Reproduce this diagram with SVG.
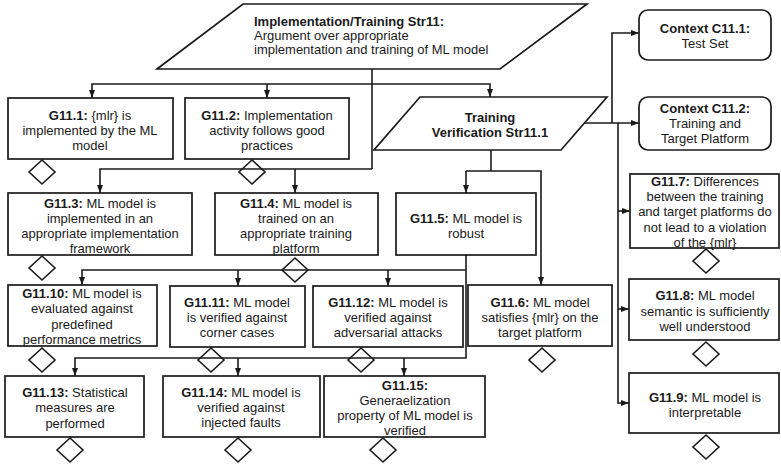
<svg xmlns="http://www.w3.org/2000/svg" width="781" height="466" viewBox="0 0 781 466">
  <defs>
    <marker id="arrow" viewBox="0 0 8 6" refX="8" refY="3" markerWidth="8" markerHeight="6" markerUnits="userSpaceOnUse" orient="auto">
      <path d="M0,0 L8,3 L0,6 z" fill="#1a1a1a"/>
    </marker>
    <path id="dia" d="M0,-12 L13,0 L0,12 L-13,0 z"/>
  </defs>
  <style>
    text { font-family: "Liberation Sans", Arial, sans-serif; font-size: 13px; fill: #1a1a1a; }
    .c { text-anchor: middle; }
    .b { font-weight: bold; }
    .node { fill: #fff; stroke: #1a1a1a; stroke-width: 1.7; }
    .edge { fill: none; stroke: #1a1a1a; stroke-width: 1.6; }
    .arr { marker-end: url(#arrow); }
    .dm { fill: none; stroke: #1a1a1a; stroke-width: 1.6; }
  </style>
  <rect width="781" height="466" fill="#fff"/>

  <!-- connectors -->
  <g id="connectors">
    <!-- Str11 fan-out -->
    <path class="edge" d="M372,69 V169"/>
    <path class="edge arr" d="M372,84 H92 V98"/>
    <path class="edge arr" d="M267,84 V98"/>
    <path class="edge arr" d="M372,84 H490 V97"/>
    <path class="edge arr" d="M372,169 H100 V193"/>
    <path class="edge arr" d="M295,169 V193"/>
    <!-- Str11.1 fan-out -->
    <path class="edge" d="M491,150 V171"/>
    <path class="edge arr" d="M466,171 H541 V285"/>
    <path class="edge arr" d="M466,171 V193"/>
    <path class="edge arr" d="M584,123 H639"/>
    <path class="edge arr" d="M612,123 V33 H639"/>
    <path class="edge arr" d="M618,123 V403 H629"/>
    <path class="edge arr" d="M618,211 H630"/>
    <path class="edge arr" d="M618,309 H629"/>
    <!-- G11.5 fan-out -->
    <path class="edge arr" d="M466,255 V358 H75 V376"/>
    <path class="edge arr" d="M466,270 H82 V285"/>
    <path class="edge arr" d="M238,270 V286"/>
    <path class="edge arr" d="M388,270 V286"/>
    <path class="edge arr" d="M238,358 V376"/>
    <path class="edge arr" d="M404,358 V376"/>
  </g>

  <!-- strategies -->
  <g id="Str11">
    <polygon class="node" points="243,4 587,4 500,69 157,69"/>
    <text x="254" y="26" class="b">Implementation/Training Str11:</text>
    <text x="254" y="40">Argument over appropriate</text>
    <text x="254" y="54">implementation and training of ML model</text>
  </g>
  <g id="Str11_1">
    <polygon class="node" points="420,97 607,97 561,150 374,150"/>
    <text x="490" y="122" class="c b">Training</text>
    <text x="490" y="137" class="c b">Verification Str11.1</text>
  </g>

  <!-- contexts -->
  <g id="C11_1">
    <rect class="node" x="639" y="10" width="132" height="50" rx="9"/>
    <text x="705" y="33" class="c b">Context C11.1:</text>
    <text x="705" y="48" class="c">Test Set</text>
  </g>
  <g id="C11_2">
    <rect class="node" x="639" y="97" width="132" height="53" rx="9"/>
    <text x="705" y="113" class="c b">Context C11.2:</text>
    <text x="705" y="128" class="c">Training and</text>
    <text x="705" y="143" class="c">Target Platform</text>
  </g>

  <!-- goals -->
  <g id="G11_1">
    <rect class="node" x="8" y="98" width="165" height="61"/>
    <text x="90" y="120" class="c"><tspan class="b">G11.1:</tspan> {mlr} is</text>
    <text x="90" y="135" class="c">implemented by the ML</text>
    <text x="90" y="150" class="c">model</text>
    <use href="#dia" class="dm" x="42" y="172"/>
  </g>
  <g id="G11_2">
    <rect class="node" x="185" y="98" width="164" height="61"/>
    <text x="267" y="120" class="c"><tspan class="b">G11.2:</tspan> Implementation</text>
    <text x="267" y="135" class="c">activity follows good</text>
    <text x="267" y="150" class="c">practices</text>
    <use href="#dia" class="dm" x="252" y="172"/>
  </g>
  <g id="G11_3">
    <rect class="node" x="8" y="193" width="184" height="62"/>
    <text x="100" y="208" class="c"><tspan class="b">G11.3:</tspan> ML model is</text>
    <text x="100" y="223" class="c">implemented in an</text>
    <text x="100" y="238" class="c">appropriate implementation</text>
    <text x="100" y="253" class="c">framework</text>
    <use href="#dia" class="dm" x="42" y="268"/>
  </g>
  <g id="G11_4">
    <rect class="node" x="215" y="193" width="163" height="62"/>
    <text x="296" y="208" class="c"><tspan class="b">G11.4:</tspan> ML model is</text>
    <text x="296" y="223" class="c">trained on an</text>
    <text x="296" y="238" class="c">appropriate training</text>
    <text x="296" y="253" class="c">platform</text>
    <use href="#dia" class="dm" x="295" y="270"/>
  </g>
  <g id="G11_5">
    <rect class="node" x="396" y="193" width="140" height="62"/>
    <text x="466" y="223" class="c"><tspan class="b">G11.5:</tspan> ML model is</text>
    <text x="466" y="238" class="c">robust</text>
  </g>
  <g id="G11_6">
    <rect class="node" x="468" y="285" width="144" height="61"/>
    <text x="540" y="307" class="c"><tspan class="b">G11.6:</tspan> ML model</text>
    <text x="540" y="322" class="c">satisfies {mlr} on the</text>
    <text x="540" y="337" class="c">target platform</text>
    <use href="#dia" class="dm" x="542" y="360"/>
  </g>
  <g id="G11_7">
    <rect class="node" x="630" y="174" width="149" height="74"/>
    <text x="705" y="186" class="c"><tspan class="b">G11.7:</tspan> Differences</text>
    <text x="705" y="201" class="c">between the training</text>
    <text x="705" y="216" class="c">and target platforms do</text>
    <text x="705" y="232" class="c">not lead to a violation</text>
    <text x="705" y="247" class="c">of the {mlr}</text>
    <use href="#dia" class="dm" x="706" y="261"/>
  </g>
  <g id="G11_8">
    <rect class="node" x="629" y="279" width="150" height="61"/>
    <text x="705" y="300" class="c"><tspan class="b">G11.8:</tspan> ML model</text>
    <text x="705" y="316" class="c">semantic is sufficiently</text>
    <text x="705" y="331" class="c">well understood</text>
    <use href="#dia" class="dm" x="706" y="354"/>
  </g>
  <g id="G11_9">
    <rect class="node" x="629" y="373" width="150" height="60"/>
    <text x="705" y="402" class="c"><tspan class="b">G11.9:</tspan> ML model is</text>
    <text x="705" y="417" class="c">interpretable</text>
    <use href="#dia" class="dm" x="706" y="447"/>
  </g>
  <g id="G11_10">
    <rect class="node" x="8" y="285" width="149" height="61"/>
    <text x="82" y="298" class="c"><tspan class="b">G11.10:</tspan> ML model is</text>
    <text x="82" y="313" class="c">evaluated against</text>
    <text x="82" y="329" class="c">predefined</text>
    <text x="82" y="344" class="c">performance metrics</text>
    <use href="#dia" class="dm" x="42" y="360"/>
  </g>
  <g id="G11_11">
    <rect class="node" x="170" y="286" width="135" height="61"/>
    <text x="237" y="307" class="c"><tspan class="b">G11.11:</tspan> ML model</text>
    <text x="237" y="322" class="c">is verified against</text>
    <text x="237" y="337" class="c">corner cases</text>
    <use href="#dia" class="dm" x="211" y="360"/>
  </g>
  <g id="G11_12">
    <rect class="node" x="313" y="286" width="150" height="61"/>
    <text x="388" y="307" class="c"><tspan class="b">G11.12:</tspan> ML model is</text>
    <text x="388" y="322" class="c">verified against</text>
    <text x="388" y="337" class="c">adversarial attacks</text>
    <use href="#dia" class="dm" x="361" y="360"/>
  </g>
  <g id="G11_13">
    <rect class="node" x="5" y="376" width="139" height="61"/>
    <text x="75" y="397" class="c"><tspan class="b">G11.13:</tspan> Statistical</text>
    <text x="75" y="412" class="c">measures are</text>
    <text x="75" y="428" class="c">performed</text>
    <use href="#dia" class="dm" x="70" y="450"/>
  </g>
  <g id="G11_14">
    <rect class="node" x="163" y="376" width="157" height="61"/>
    <text x="241" y="397" class="c"><tspan class="b">G11.14:</tspan> ML model is</text>
    <text x="241" y="412" class="c">verified against</text>
    <text x="241" y="427" class="c">injected faults</text>
    <use href="#dia" class="dm" x="238" y="450"/>
  </g>
  <g id="G11_15">
    <rect class="node" x="324" y="376" width="161" height="61"/>
    <text x="405" y="390" class="c b">G11.15:</text>
    <text x="405" y="405" class="c">Generaelization</text>
    <text x="405" y="420" class="c">property of ML model is</text>
    <text x="405" y="435" class="c">verified</text>
    <use href="#dia" class="dm" x="383" y="450"/>
  </g>
</svg>
